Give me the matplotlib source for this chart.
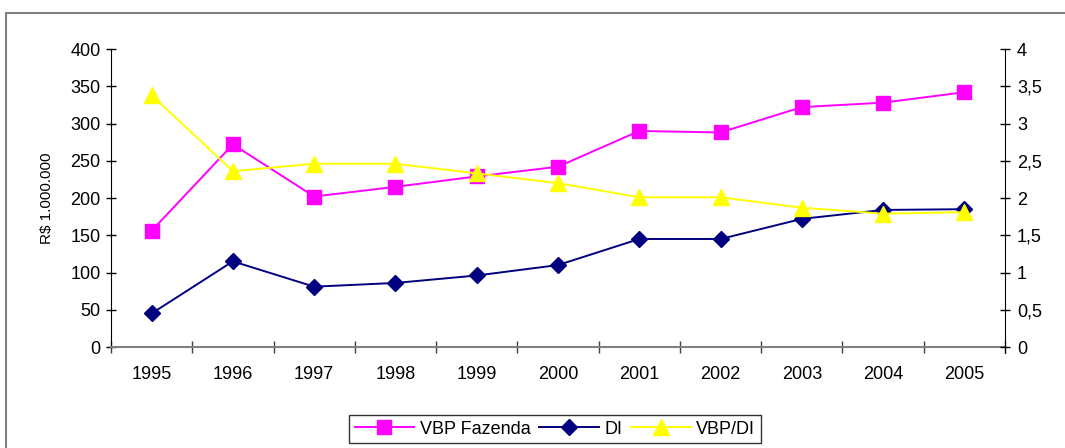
import matplotlib.pyplot as plt
import matplotlib.patches as patches
from matplotlib.ticker import FixedLocator, FuncFormatter

plt.rcParams['font.family'] = ['Liberation Sans', 'DejaVu Sans']

anos = ['1995', '1996', '1997', '1998', '1999', '2000', '2001', '2002', '2003', '2004', '2005']
vbp_fazenda = [156, 272, 202, 215, 229, 242, 290, 288, 322, 328, 342]
di = [45, 115, 81, 86, 96, 110, 145, 145, 172, 184, 185]
vbp_di = [3.38, 2.36, 2.46, 2.46, 2.33, 2.2, 2.01, 2.01, 1.87, 1.79, 1.81]

x = list(range(len(anos)))

fig = plt.figure(figsize=(10.65, 4.48), dpi=100)
ax = fig.add_axes([0.1042, 0.2254, 0.8395, 0.6652])
ax2 = ax.twinx()

l1, = ax.plot(x, vbp_fazenda, color='#FF00FF', marker='s', markersize=10, lw=1.4, label='VBP Fazenda')
l2, = ax.plot(x, di, color='#000080', marker='D', markersize=8.5, lw=1.4, label='DI')
l3, = ax2.plot(x, vbp_di, color='#FFFF00', marker='^', markersize=12, lw=1.4, label='VBP/DI')

ax.set_xlim(-0.5, len(anos) - 0.5)
ax.set_ylim(0, 400)
ax2.set_ylim(0, 4)
ax.set_yticks(range(0, 401, 50))
ax2.set_yticks([0, 0.5, 1, 1.5, 2, 2.5, 3, 3.5, 4])
ax2.yaxis.set_major_formatter(FuncFormatter(lambda v, p: ('%g' % v).replace('.', ',')))

ax.xaxis.set_major_locator(FixedLocator([i - 0.5 for i in range(len(anos) + 1)]))
ax.xaxis.set_major_formatter(FuncFormatter(lambda v, p: ''))
ax.xaxis.set_minor_locator(FixedLocator(x))
ax.set_xticklabels(anos, minor=True)
ax.tick_params(axis='x', which='minor', length=0, pad=14, labelsize=13)
ax.tick_params(axis='x', which='major', direction='inout', length=8, width=1, color='#404040')
ax.tick_params(axis='y', direction='inout', length=7, width=1, pad=4, labelsize=13)
ax2.tick_params(axis='y', direction='inout', length=7, width=1, pad=5, labelsize=13)

for a in (ax, ax2):
    a.spines['top'].set_visible(False)
    a.set_facecolor('none')
ax.spines['right'].set_visible(False)
ax2.spines['left'].set_visible(False)
ax.spines['bottom'].set_color('#808080')
ax.spines['bottom'].set_linewidth(1.5)
ax2.spines['bottom'].set_visible(False)
ax2.spines['right'].set_bounds(-0.08, 4)

ax.set_ylabel('R$ 1.000.000', fontsize=11, labelpad=12)

fig.legend(handles=[l1, l2, l3], loc='center', bbox_to_anchor=(555 / 1065, 1 - 429 / 448),
           ncol=3, fontsize=13, frameon=True, fancybox=False, edgecolor='black',
           handlelength=3.3, columnspacing=0.5, handletextpad=0.3, borderpad=0.3)
for lg in fig.legends:
    lg.get_frame().set_linewidth(1.0)

fig.patches.append(patches.Rectangle((6 / 1065, -0.05), 1.1, 1 - 13 / 448 + 0.05,
                                     transform=fig.transFigure, fill=False,
                                     edgecolor='#808080', lw=1.5))

fig.savefig('out.png', dpi=100)
